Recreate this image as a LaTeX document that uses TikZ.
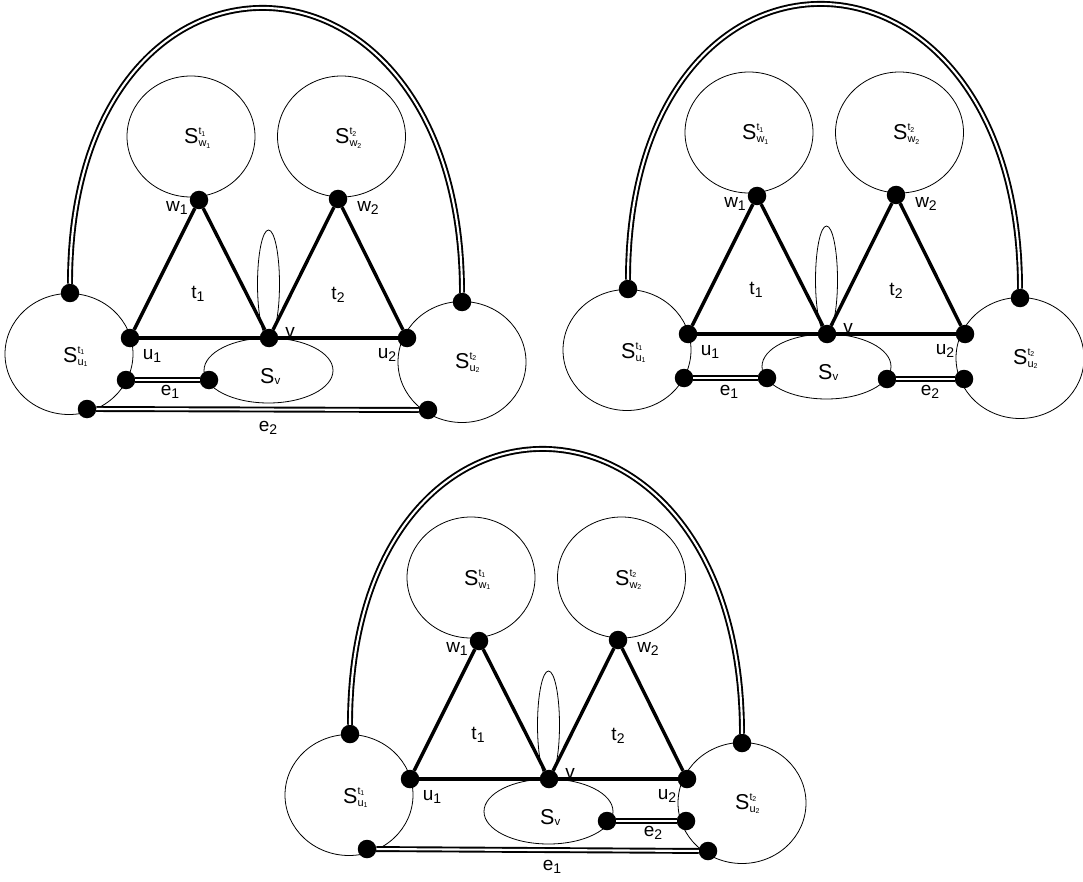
\documentclass[tikz,border=0pt]{standalone}
\usepackage{fontspec}
\setmainfont{Liberation Sans}
\usetikzlibrary{shapes.geometric}
\newcommand{\sbs}[1]{\raisebox{-3pt}{\fontsize{14}{14}\selectfont #1}}
\newcommand{\tn}[1]{\raisebox{-1.5pt}{\fontsize{7}{7}\selectfont #1}}
\newcommand{\SL}[2]{\fontsize{21.5}{21.5}\selectfont S\rlap{\raisebox{9pt}{\fontsize{10.5}{10.5}\selectfont #1}}\raisebox{-3pt}{\fontsize{11}{11}\selectfont #2}}
\newcommand{\SV}{\fontsize{21.5}{21.5}\selectfont S\raisebox{-1.5pt}{\fontsize{11.5}{11.5}\selectfont v}}
\tikzset{
 set/.style={draw, ellipse, line width=0.8pt, inner sep=0, outer sep=0, minimum width=128pt, minimum height=121pt},
 vset/.style={set, minimum width=129pt, minimum height=65pt},
 dot/.style={circle, fill, inner sep=0, outer sep=0, minimum size=18.5pt},
 tri/.style={line width=3.4pt},
 dbl/.style={double, double distance=2.1pt, line width=1.9pt},
 lbl/.style={inner sep=0, font=\fontsize{19}{19}\selectfont},
 slbl/.style={inner sep=0, anchor=base west},
}
\newcommand{\panel}[3]{%
\begin{scope}[shift={(#2,#3)}]
 \node[set] (#1Sw1) at (191,136.5) {};
 \node[set] (#1Sw2) at (341.5,136.5) {};
 \node[set] (#1Su1) at (69,354) {};
 \node[set] (#1Su2) at (462,362) {};
 \node[vset] (#1Sv) at (268.5,370.5) {};
 \draw[line width=0.8pt] (268.5,284) ellipse [x radius=11, y radius=54];
 \node[dot] (#1w1) at (199,200) {};
 \node[dot] (#1w2) at (338,199) {};
 \node[dot] (#1u1) at (130,338) {};
 \node[dot] (#1v) at (269,338) {};
 \node[dot] (#1u2) at (407,338) {};
 \node[dot] (#1al) at (70,293) {};
 \node[dot] (#1ar) at (462,302) {};
 \draw[tri] (#1u1) -- (#1w1);
 \draw[tri] (#1w1) -- (#1v);
 \draw[tri] (#1v) -- (#1w2);
 \draw[tri] (#1w2) -- (#1u2);
 \draw[tri] (#1u1) -- (#1v);
 \draw[tri] (#1v) -- (#1u2);
 \draw[dbl] (#1al) .. controls +(0,-383) and +(0,-383) .. (#1ar);
 \node[slbl] (#1LSw1) at (184,144) {\SL{t\tn{1}}{w\tn{1}}};
 \node[slbl] (#1LSw2) at (335,144) {\SL{t\tn{2}}{w\tn{2}}};
 \node[slbl] (#1LSu1) at (63,362) {\SL{t\tn{1}}{u\tn{1}}};
 \node[slbl] (#1LSu2) at (455,368) {\SL{t\tn{2}}{u\tn{2}}};
 \node[slbl] (#1LSv) at (260,383) {\SV};
 \node[lbl] (#1Lw1) at (177,208) {w\sbs{1}};
 \node[lbl] (#1Lw2) at (368,208) {w\sbs{2}};
 \node[lbl] (#1Lu1) at (152,356) {u\sbs{1}};
 \node[lbl] (#1Lu2) at (387,355) {u\sbs{2}};
 \node[lbl] (#1Lv) at (290,332) {v};
 \node[lbl] (#1Lt1) at (198,294) {t\sbs{1}};
 \node[lbl] (#1Lt2) at (338,295) {t\sbs{2}};
\end{scope}}
\begin{document}
\begin{tikzpicture}[x=1pt,y=-1pt]
\useasboundingbox (0,0) rectangle (1083,882);
% panel 1
\panel{a}{0}{0}
\begin{scope}
 \node[dot] (ae1a) at (126,380) {};
 \node[dot] (ae1b) at (209,380) {};
 \node[dot] (ae2a) at (87,409) {};
 \node[dot] (ae2b) at (428,410) {};
 \draw[dbl] (ae1a) -- (ae1b);
 \draw[dbl] (ae2a) -- (ae2b);
 \node[lbl] (aLe1) at (170,392) {e\sbs{1}};
 \node[lbl] (aLe2) at (268,428) {e\sbs{2}};
\end{scope}
% panel 2
\panel{b}{558}{-4}
\begin{scope}[shift={(558,-4)}]
 \node[dot] (be1a) at (126,382) {};
 \node[dot] (be1b) at (209,382) {};
 \node[dot] (be2a) at (329,383) {};
 \node[dot] (be2b) at (406,383) {};
 \draw[dbl] (be1a) -- (be1b);
 \draw[dbl] (be2a) -- (be2b);
 \node[lbl] (bLe1) at (171,396) {e\sbs{1}};
 \node[lbl] (bLe2) at (372,396) {e\sbs{2}};
\end{scope}
% panel 3
\panel{c}{280}{441}
\begin{scope}[shift={(280,441)}]
 \node[dot] (ce2a) at (327,380) {};
 \node[dot] (ce2b) at (406,380) {};
 \node[dot] (ce1a) at (87,408) {};
 \node[dot] (ce1b) at (428,410) {};
 \draw[dbl] (ce2a) -- (ce2b);
 \draw[dbl] (ce1a) -- (ce1b);
 \node[lbl] (cLe2) at (373,392) {e\sbs{2}};
 \node[lbl] (cLe1) at (272,426) {e\sbs{1}};
\end{scope}
\end{tikzpicture}
\end{document}
